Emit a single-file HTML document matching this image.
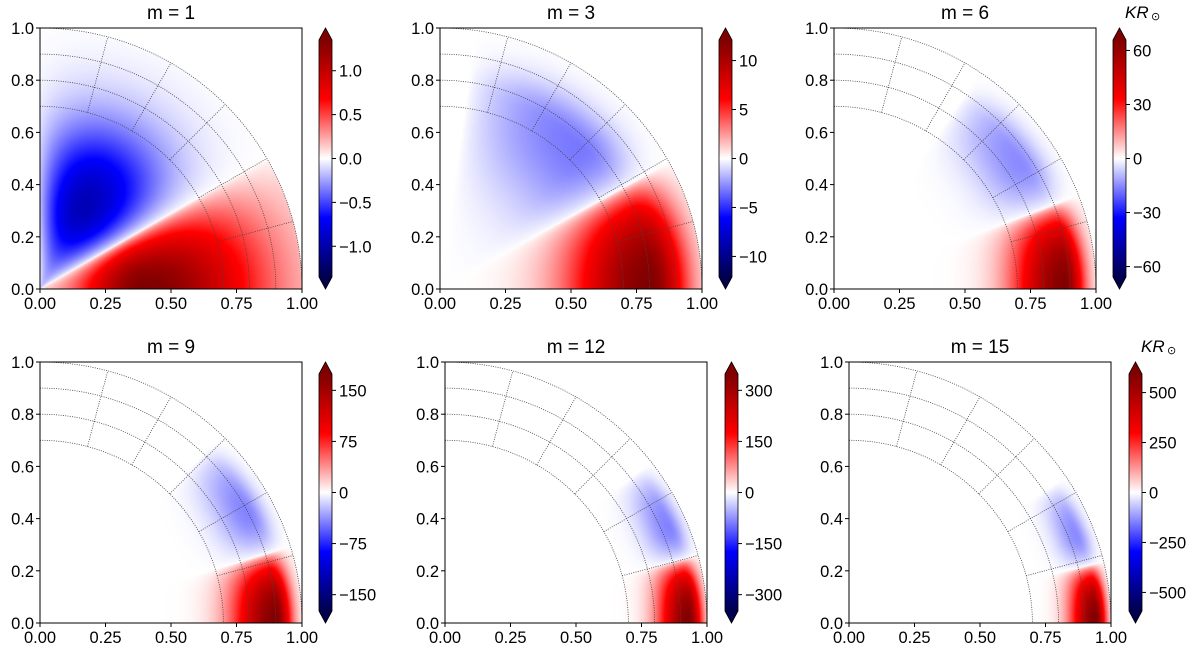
<!DOCTYPE html>
<html><head><meta charset="utf-8"><style>
html,body{margin:0;padding:0;background:#fff;}
#wrap{position:relative;width:1200px;height:653px;overflow:hidden;}
canvas,svg{position:absolute;left:0;top:0;}
text{font-family:"Liberation Sans","DejaVu Sans",sans-serif;fill:#000;}
</style></head><body>
<div id="wrap">
<canvas id="heat" width="1200" height="653"></canvas>
<svg id="ov" width="1200" height="653" xmlns="http://www.w3.org/2000/svg"></svg>
</div>
<script>
// ---- data ----
const modes = [1, 3, 6, 9, 12, 15];
const vmaxes = [1.35, 12.1, 65.8, 174, 348, 593];
const cbarTicks = [[-1,-0.5,0,0.5,1],[-10,-5,0,5,10],[-60,-30,0,30,60],[-150,-75,0,75,150],[-300,-150,0,150,300],[-500,-250,0,250,500]];
const cbarTickLabels = [["−1.0","−0.5","0.0","0.5","1.0"],["−10","−5","0","5","10"],["−60","−30","0","30","60"],["−150","−75","0","75","150"],["−300","−150","0","150","300"],["−500","−250","0","250","500"]];
// positive (red) lobe: amplitude, radius of peak, inner width, outer width
const posAmp = [1.35, 12.1, 65, 172, 345, 590];
const posR = [0.40, 0.80, 0.88, 0.90, 0.93, 0.94];
const posWin = [0.25, 0.30, 0.19, 0.16, 0.11, 0.09];
const posWout = [0.45, 0.14, 0.075, 0.06, 0.05, 0.04];
// zero-crossing latitude (deg)
const zeroLat = [30, 29, 21, 17, 15, 13.5];
// negative (blue) lobe: amplitude, radius, widths, peak latitude, end latitude
const negAmp = [0.95, 3.2, 15, 42, 85, 135];
const negR = [0.36, 0.76, 0.86, 0.90, 0.93, 0.93];
const negWin = [0.26, 0.32, 0.17, 0.13, 0.10, 0.08];
const negWout = [0.32, 0.13, 0.08, 0.06, 0.05, 0.045];
const negLat = [62, 45, 34, 28, 23, 21];
const negEnd = [92, 82, 56, 46, 38, 34];
const axTicks = [0, 0.25, 0.5, 0.75, 1.0];
const axTickLabels = ["0.00","0.25","0.50","0.75","1.00"];
const ayTicks = [0, 0.2, 0.4, 0.6, 0.8, 1.0];
const ayTickLabels = ["0.0","0.2","0.4","0.6","0.8","1.0"];
const gridR = [0.7, 0.8, 0.9, 1.0];
const gridLat = [15, 30, 45, 60, 75];

// ---- layout ----
const panelLeft = [40, 440, 834, 40, 445, 849];
const panelTop = [28, 28, 28, 362, 362, 362];
const PW = 262, PH = 261;
const cbarLeft = [319, 719, 1113, 319, 725, 1129];
const CBW = 13;
const FS = 16.5;

const NS = "http://www.w3.org/2000/svg";
const ov = document.getElementById('ov');
const ctx = document.getElementById('heat').getContext('2d');

function seismic(t){
  t = Math.max(0, Math.min(1, t));
  const st = [[0,0,0,0.3],[0.25,0,0,1],[0.5,1,1,1],[0.75,1,0,0],[1,0.5,0,0]];
  for (let i=0;i<4;i++){
    if (t<=st[i+1][0]){
      const f=(t-st[i][0])/(st[i+1][0]-st[i][0]);
      return [0,1,2].map(k=>Math.round(255*(st[i][k+1]+f*(st[i+1][k+1]-st[i][k+1]))));
    }
  }
  return [128,0,0];
}
function radial(r, rc, wi, wo){ const w = r<rc?wi:wo; return Math.exp(-Math.pow((r-rc)/w,2)); }
function field(p, x, y){
  const r = Math.hypot(x,y); if (r>1) return 0;
  const th = Math.atan2(y,x)*180/Math.PI;
  const z = zeroLat[p];
  if (th < z){
    const g = Math.pow(Math.cos(Math.PI/2*th/z), 0.6);
    return posAmp[p]*g*radial(r,posR[p],posWin[p],posWout[p]);
  } else {
    let g;
    if (th < negLat[p]) g = Math.sin(Math.PI/2*(th-z)/(negLat[p]-z));
    else if (th < negEnd[p]) g = Math.cos(Math.PI/2*(th-negLat[p])/(negEnd[p]-negLat[p]));
    else g = 0;
    g = Math.pow(Math.max(g,0),0.8);
    return -negAmp[p]*g*radial(r,negR[p],negWin[p],negWout[p]);
  }
}
function el(tag, attrs, parent){
  const e = document.createElementNS(NS, tag);
  for (const k in attrs) e.setAttribute(k, attrs[k]);
  (parent||ov).appendChild(e); return e;
}

for (let p=0;p<6;p++){
  const L=panelLeft[p], T=panelTop[p];
  const sx = v => L + v*PW;
  const sy = v => T + PH - v*PH;
  const img = ctx.createImageData(PW, PH);
  for (let j=0;j<PH;j++) for (let i=0;i<PW;i++){
    const x=(i+0.5)/PW, y=1-(j+0.5)/PH;
    const c = seismic(0.5+0.5*field(p,x,y)/vmaxes[p]);
    const o=(j*PW+i)*4; img.data[o]=c[0]; img.data[o+1]=c[1]; img.data[o+2]=c[2]; img.data[o+3]=255;
  }
  ctx.putImageData(img, L, T);

  const g = el('g', {});
  
  
  gridR.forEach(rr=>{
    const a = el('path', {d:`M ${sx(0)} ${sy(rr)} A ${rr*PW} ${rr*PH} 0 0 1 ${sx(rr)} ${sy(0)}`, fill:'none', stroke:'#444', 'stroke-width':0.8, 'stroke-dasharray':'1 1.3'}, g);
    
    
  });
  gridLat.forEach(la=>{
    const c=Math.cos(la*Math.PI/180), s=Math.sin(la*Math.PI/180);
    const ln = el('line', {x1:sx(0.7*c), y1:sy(0.7*s), x2:sx(1.0*c), y2:sy(1.0*s), stroke:'#444', 'stroke-width':0.8, 'stroke-dasharray':'1 1.3'}, g);
    
    
  });
  const fr = el('rect', {x:L, y:T, width:PW, height:PH, fill:'none', stroke:'#000', 'stroke-width':1}, g);
  
  
  axTicks.forEach((v,i)=>{
    el('line', {x1:sx(v), y1:T+PH, x2:sx(v), y2:T+PH+4, stroke:'#000'}, g);
    const t = el('text', {x:sx(v), y:T+PH+20, 'text-anchor':'middle', 'font-size':FS}, g);
    t.textContent = axTickLabels[i];
    
    
  });
  ayTicks.forEach((v,i)=>{
    el('line', {x1:L-4, y1:sy(v), x2:L, y2:sy(v), stroke:'#000'}, g);
    const t = el('text', {x:L-6, y:sy(v)+6, 'text-anchor':'end', 'font-size':FS}, g);
    t.textContent = ayTickLabels[i];
    
    
  });
  const tt = el('text', {x:L+PW/2, y:T-9, 'text-anchor':'middle', 'font-size':19}, g);
  tt.textContent = 'm = ' + modes[p];
  
  

  const cx=cbarLeft[p], bTop=T+12, bBot=T+PH-12, tipTop=T, tipBot=T+PH;
  const gid='cg'+p;
  const defs = el('defs', {}, g);
  const lg = el('linearGradient', {id:gid, x1:0, y1:1, x2:0, y2:0}, defs);
  for (let k=0;k<=20;k++){ const c=seismic(k/20); el('stop', {offset:k/20, 'stop-color':`rgb(${c})`}, lg); }
  const cb = el('rect', {x:cx, y:bTop, width:CBW, height:bBot-bTop, fill:`url(#${gid})`}, g);
  
  
  const up = el('polygon', {points:`${cx},${bTop} ${cx+CBW/2},${tipTop} ${cx+CBW},${bTop}`, fill:'rgb(128,0,0)'}, g);
  
  
  const dn = el('polygon', {points:`${cx},${bBot} ${cx+CBW/2},${tipBot} ${cx+CBW},${bBot}`, fill:'rgb(0,0,77)'}, g);
  
  
  el('path', {d:`M ${cx} ${bTop} L ${cx+CBW/2} ${tipTop} L ${cx+CBW} ${bTop} L ${cx+CBW} ${bBot} L ${cx+CBW/2} ${tipBot} L ${cx} ${bBot} Z`, fill:'none', stroke:'#000', 'stroke-width':0.8}, g);
  const cyv = v => (bTop+bBot)/2 - v/vmaxes[p]*(bBot-bTop)/2;
  cbarTicks[p].forEach((v,i)=>{
    el('line', {x1:cx+CBW, y1:cyv(v), x2:cx+CBW+4, y2:cyv(v), stroke:'#000'}, g);
    const t = el('text', {x:cx+CBW+7, y:cyv(v)+6, 'font-size':FS}, g);
    t.textContent = cbarTickLabels[p][i];
    
    
  });
  if (p===2 || p===5){
    const u = el('text', {x:cx+12, y:T-10, 'font-size':17, 'font-style':'italic'}, g);
    u.textContent = 'KR';
    
    
    const s = el('text', {x:cx+38, y:T-8, 'font-size':11}, g);
    s.textContent = '⊙';
    
    
  }
}
</script>
</body></html>
